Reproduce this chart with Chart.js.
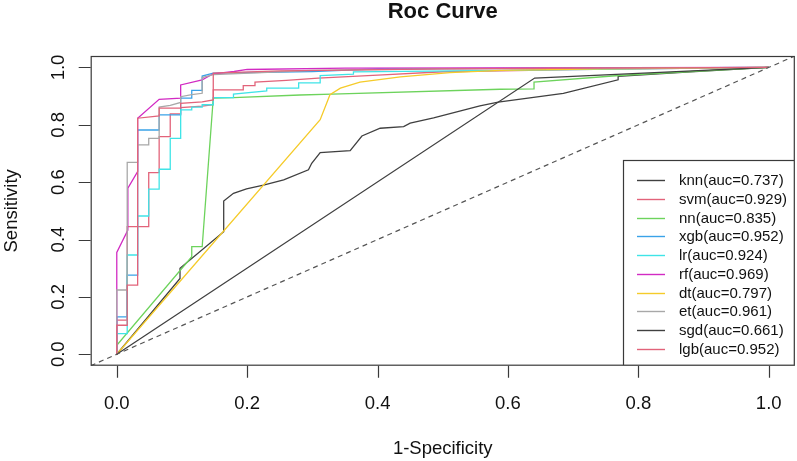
<!DOCTYPE html>
<html>
<head>
<meta charset="utf-8">
<script src="https://cdn.jsdelivr.net/npm/chart.js@4"></script>
<style>
  html, body { margin: 0; padding: 0; background: #fff; }
  canvas { display: block; }
</style>
</head>
<body>
<canvas id="roc" width="797" height="461"></canvas>
<script>
// ROC points as [1-specificity, sensitivity]
const knn = [[0,0],[0.097,0.264],[0.097,0.30],[0.164,0.427],[0.164,0.534],[0.179,0.561],[0.199,0.577],[0.225,0.59],[0.256,0.608],[0.294,0.643],[0.299,0.666],[0.312,0.703],[0.358,0.71],[0.376,0.761],[0.404,0.788],[0.44,0.794],[0.45,0.806],[0.486,0.824],[0.557,0.866],[0.585,0.879],[0.685,0.91],[0.769,0.957],[0.769,0.969],[0.88,0.985],[1,1]];
const svm = [[0,0],[0,0.119],[0.016,0.119],[0.016,0.445],[0.049,0.445],[0.049,0.633],[0.065,0.633],[0.065,0.759],[0.082,0.759],[0.082,0.838],[0.098,0.838],[0.098,0.86],[0.131,0.865],[0.148,0.87],[0.148,0.922],[0.194,0.922],[0.194,0.937],[0.212,0.937],[0.212,0.949],[0.26,0.955],[0.309,0.963],[0.408,0.974],[0.5,0.985],[0.7,0.993],[1,1]];
const nn = [[0,0],[0,0.031],[0.115,0.34],[0.115,0.375],[0.131,0.375],[0.148,0.893],[0.179,0.895],[0.281,0.904],[0.33,0.907],[0.588,0.924],[0.64,0.925],[0.64,0.949],[0.77,0.972],[1,1]];
const xgb = [[0,0],[0,0.13],[0.016,0.13],[0.016,0.276],[0.032,0.276],[0.032,0.782],[0.065,0.782],[0.065,0.835],[0.098,0.835],[0.098,0.893],[0.115,0.893],[0.115,0.92],[0.131,0.92],[0.131,0.97],[0.148,0.98],[0.3,0.986],[0.4,0.995],[1,1]];
const lr = [[0,0],[0,0.072],[0.016,0.072],[0.016,0.346],[0.032,0.346],[0.032,0.482],[0.049,0.482],[0.049,0.576],[0.065,0.576],[0.065,0.645],[0.082,0.645],[0.082,0.753],[0.098,0.753],[0.098,0.852],[0.115,0.852],[0.115,0.862],[0.131,0.862],[0.131,0.87],[0.148,0.87],[0.148,0.895],[0.179,0.895],[0.179,0.907],[0.23,0.918],[0.23,0.928],[0.279,0.928],[0.279,0.946],[0.312,0.946],[0.312,0.972],[0.363,0.977],[0.363,0.985],[0.6,0.99],[0.8,0.995],[1,1]];
const rf = [[0,0],[0,0.355],[0.017,0.433],[0.017,0.579],[0.032,0.637],[0.032,0.823],[0.065,0.889],[0.098,0.893],[0.098,0.939],[0.131,0.957],[0.148,0.978],[0.18,0.986],[0.2,0.993],[0.35,0.998],[1,1]];
const dt = [[0,0],[0.312,0.818],[0.327,0.905],[0.343,0.928],[0.373,0.949],[0.435,0.967],[0.511,0.982],[0.588,0.99],[0.75,0.995],[1,1]];
const et = [[0,0],[0,0.224],[0.016,0.224],[0.016,0.669],[0.032,0.669],[0.032,0.73],[0.049,0.73],[0.049,0.753],[0.065,0.753],[0.065,0.862],[0.082,0.868],[0.098,0.878],[0.098,0.898],[0.115,0.905],[0.131,0.91],[0.131,0.965],[0.148,0.975],[0.25,0.985],[0.3,0.99],[0.5,0.995],[1,1]];
const sgd = [[0,0],[0.641,0.963],[1,1]];
const lgb = [[0,0],[0,0.101],[0.016,0.101],[0.016,0.241],[0.032,0.241],[0.032,0.823],[0.065,0.831],[0.065,0.858],[0.098,0.858],[0.098,0.875],[0.131,0.88],[0.148,0.887],[0.148,0.98],[0.25,0.988],[0.5,0.995],[1,1]];

const modelNames = ["knn", "svm", "nn", "xgb", "lr", "rf", "dt", "et", "sgd", "lgb"];
const modelAuc = ["0.737", "0.929", "0.835", "0.952", "0.924", "0.969", "0.797", "0.961", "0.661", "0.952"];
const modelPoints = [knn, svm, nn, xgb, lr, rf, dt, et, sgd, lgb];
const modelColors = ["#404040", "#E2637A", "#6DD35C", "#3AA2E8", "#3FE4E7", "#D22BC3", "#F5CB2A", "#A8A8A8", "#404040", "#E2637A"];

const xTicks = [0, 0.2, 0.4, 0.6, 0.8, 1.0];
const yTicks = [0, 0.2, 0.4, 0.6, 0.8, 1.0];
const diagonal = [[-0.04, -0.04], [1.04, 1.04]];

const FONT = "'Liberation Sans', Arial, sans-serif";
const INK = "#3a3a3a";

const datasets = modelPoints.map((pts, i) => ({
  label: modelNames[i] + "(auc=" + modelAuc[i] + ")",
  data: pts.map(p => ({ x: p[0], y: p[1] })),
  borderColor: modelColors[i],
  borderWidth: 1.3,
  pointRadius: 0,
  tension: 0,
  fill: false,
  order: modelNames.length - i + 1
}));

datasets.push({
  label: "ref",
  data: diagonal.map(p => ({ x: p[0], y: p[1] })),
  borderColor: "#555",
  borderWidth: 1.2,
  borderDash: [5, 4],
  pointRadius: 0,
  fill: false,
  order: 0
});

// R-style frame, axes, title and legend
const rFrame = {
  id: "rFrame",
  afterDraw(chart) {
    const ctx = chart.ctx;
    const a = chart.chartArea;
    const xs = chart.scales.x, ys = chart.scales.y;
    ctx.save();
    ctx.strokeStyle = INK;
    ctx.lineWidth = 1.2;
    ctx.strokeRect(a.left + 0.5, a.top + 0.5, a.right - a.left - 1, a.bottom - a.top - 1);

    ctx.fillStyle = "#111";
    ctx.font = "18.5px " + FONT;
    // x axis
    ctx.beginPath();
    xTicks.forEach(t => {
      const px = Math.round(xs.getPixelForValue(t)) + 0.5;
      ctx.moveTo(px, a.bottom);
      ctx.lineTo(px, a.bottom + 12);
    });
    ctx.stroke();
    ctx.textAlign = "center";
    ctx.textBaseline = "alphabetic";
    xTicks.forEach(t => ctx.fillText(t.toFixed(1), xs.getPixelForValue(t), 408.5));

    // y axis
    ctx.beginPath();
    yTicks.forEach(t => {
      const py = Math.round(ys.getPixelForValue(t)) + 0.5;
      ctx.moveTo(a.left, py);
      ctx.lineTo(a.left - 12, py);
    });
    ctx.stroke();
    yTicks.forEach(t => {
      ctx.save();
      ctx.translate(63.5, ys.getPixelForValue(t));
      ctx.rotate(-Math.PI / 2);
      ctx.fillText(t.toFixed(1), 0, 0);
      ctx.restore();
    });

    // axis titles
    ctx.fillText("1-Specificity", (a.left + a.right) / 2, 453.5);
    ctx.save();
    ctx.translate(16.5, (a.top + a.bottom) / 2);
    ctx.rotate(-Math.PI / 2);
    ctx.fillText("Sensitivity", 0, 0);
    ctx.restore();

    // title
    ctx.font = "bold 22px " + FONT;
    ctx.fillText("Roc Curve", (a.left + a.right) / 2, 17.5);

    // legend, bottom right
    const boxL = 623, boxT = 160;
    ctx.fillStyle = "#fff";
    ctx.fillRect(boxL, boxT, a.right - boxL, a.bottom - boxT);
    ctx.strokeStyle = INK;
    ctx.strokeRect(boxL + 0.5, boxT + 0.5, a.right - boxL - 1, a.bottom - boxT - 1);
    ctx.font = "15px " + FONT;
    ctx.textAlign = "left";
    ctx.textBaseline = "middle";
    ctx.fillStyle = "#111";
    ctx.lineWidth = 1.4;
    modelNames.forEach((n, i) => {
      const ry = 180 + i * 18.75;
      ctx.strokeStyle = modelColors[i];
      ctx.beginPath();
      ctx.moveTo(637, Math.round(ry) + 0.5);
      ctx.lineTo(665, Math.round(ry) + 0.5);
      ctx.stroke();
      ctx.fillText(datasets[i].label, 679, ry + 1);
    });
    ctx.restore();
  }
};

new Chart(document.getElementById("roc"), {
  type: "line",
  data: { datasets: datasets },
  options: {
    responsive: false,
    animation: false,
    devicePixelRatio: 1,
    layout: { padding: { left: 90.7, right: 2.2, top: 56, bottom: 95.3 } },
    scales: {
      x: { type: "linear", min: -0.04, max: 1.04, display: false },
      y: { type: "linear", min: -0.04, max: 1.04, display: false }
    },
    plugins: {
      legend: { display: false },
      tooltip: { enabled: false },
      title: { display: false }
    }
  },
  plugins: [rFrame]
});
</script>
</body>
</html>
